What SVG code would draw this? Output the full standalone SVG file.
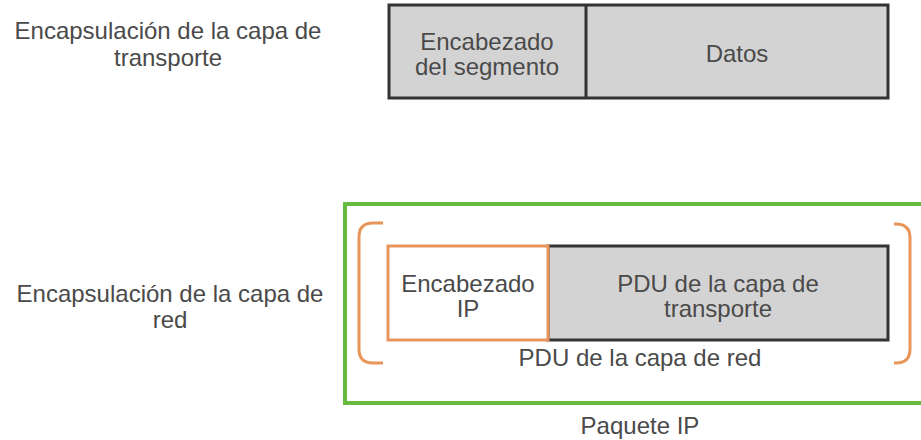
<svg xmlns="http://www.w3.org/2000/svg" width="921" height="440" viewBox="0 0 921 440">
<style>
text{font-family:"Liberation Sans",Arial,sans-serif;font-size:24px;fill:#4a4a4a;text-anchor:middle}
.gray{fill:#d4d3d3;stroke:#333;stroke-width:3}
.org{fill:none;stroke:#e8955a;stroke-width:3}
.grn{fill:none;stroke:#66bb3f;stroke-width:4}
</style>
<rect width="921" height="440" fill="#fff"/>
<g id="label-transporte">
<text x="168" y="39">Encapsulación de la capa de</text>
<text x="168" y="66">transporte</text>
</g>
<g id="segmento">
<rect class="gray" x="389" y="5" width="499" height="93"/>
<line x1="586" y1="5" x2="586" y2="98" stroke="#333" stroke-width="3"/>
<text x="487" y="50">Encabezado</text>
<text x="487" y="75">del segmento</text>
<text x="737" y="62">Datos</text>
</g>
<g id="label-red">
<text x="170" y="302">Encapsulación de la capa de</text>
<text x="170" y="328">red</text>
</g>
<g id="paquete-ip">
<rect class="grn" x="345" y="204" width="580" height="199"/>
<text x="640" y="434">Paquete IP</text>
</g>
<g id="pdu-red">
<path class="org" d="M383,223 H373 Q359,223 359,237 V349 Q359,363 373,363 H383"/>
<path class="org" d="M894,224 H896 Q910,224 910,238 V349 Q910,363 896,363 H894"/>
<text x="640" y="366">PDU de la capa de red</text>
</g>
<g id="pdu-transporte">
<rect class="gray" x="548" y="246" width="340" height="94"/>
<text x="718" y="292">PDU de la capa de</text>
<text x="718" y="317">transporte</text>
</g>
<g id="encabezado-ip">
<rect class="org" x="388" y="246" width="160" height="94" fill="#fff" style="fill:#fff"/>
<text x="468" y="292">Encabezado</text>
<text x="468" y="317">IP</text>
</g>
</svg>
